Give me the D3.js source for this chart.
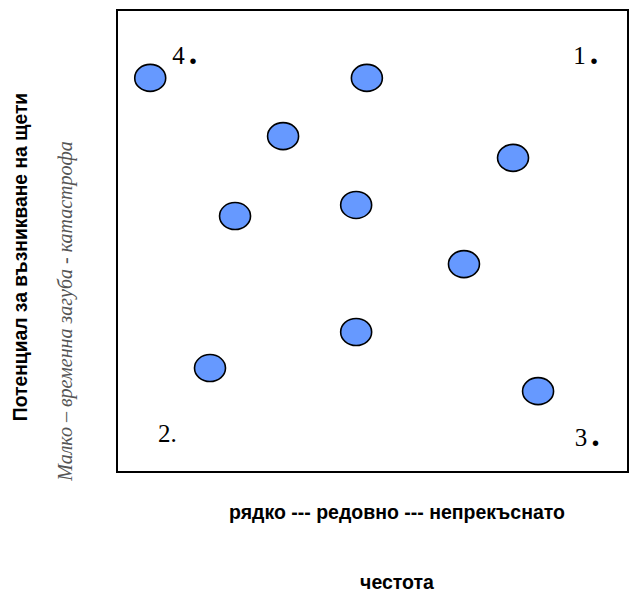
<!DOCTYPE html>
<html>
<head>
<meta charset="utf-8">
<script src="https://cdn.jsdelivr.net/npm/d3@7"></script>
<style>
html,body{margin:0;padding:0;background:#fff;}
svg{display:block;}
</style>
</head>
<body>
<svg id="chart" width="630" height="598"></svg>
<script>
// Data (frequency on x, damage potential on y, 0..10 scale)
const pointNames = ["a","b","c","d","e","f","g","h","i","j"];
const freqValues = [0.65, 4.89, 3.25, 7.75, 2.31, 4.68, 6.79, 4.68, 1.82, 8.24];
const damageValues = [8.53, 8.53, 7.27, 6.80, 5.54, 5.78, 4.50, 3.03, 2.25, 1.75];
const quadrantLabels = ["4", "1", "2", "3"];
const quadrantX = [1.08, 8.93, 0.80, 8.96];
const quadrantY = [8.83, 8.83, 0.65, 0.56];
const quadrantBullet = [true, true, false, true];
const xAxisTitle = "рядко --- редовно --- непрекъснато";
const xAxisTitle2 = "честота";
const yAxisTitle = "Потенциал за възникване на щети";
const yAxisSub = "Малко – временна загуба - катастрофа";

(function(){
const svg = d3.select("#chart");
const pl = 117, pr = 628, pt = 10, pb = 472;
const x = d3.scaleLinear().domain([0, 10]).range([pl, pr]);
const y = d3.scaleLinear().domain([0, 10]).range([pb, pt]);

svg.append("rect")
  .attr("x", pl).attr("y", pt)
  .attr("width", pr - pl).attr("height", pb - pt)
  .attr("fill", "#fff").attr("stroke", "#000").attr("stroke-width", 2);

const pts = pointNames.map((n, i) => ({n, fx: freqValues[i], dy: damageValues[i]}));
svg.append("g").selectAll("ellipse").data(pts).join("ellipse")
  .attr("cx", d => x(d.fx)).attr("cy", d => y(d.dy))
  .attr("rx", 15.5).attr("ry", 13.5)
  .attr("fill", "#6699ff").attr("stroke", "#000").attr("stroke-width", 1.6);

const ql = svg.append("g").selectAll("text").data(quadrantLabels).join("text")
  .attr("x", (d, i) => x(quadrantX[i])).attr("y", (d, i) => y(quadrantY[i]))
  .attr("font-family", "'Liberation Serif', 'Times New Roman', serif")
  .attr("font-size", 25).attr("fill", "#000");
ql.append("tspan").text(d => d);
ql.append("tspan")
  .attr("dx", (d, i) => quadrantBullet[i] ? 4 : 0)
  .attr("font-weight", (d, i) => quadrantBullet[i] ? "bold" : "normal")
  .attr("font-size", (d, i) => quadrantBullet[i] ? 34 : 25)
  .text(".");

svg.append("text")
  .attr("x", 397).attr("y", 519)
  .attr("text-anchor", "middle")
  .attr("font-family", "'Liberation Sans', Arial, sans-serif")
  .attr("font-weight", "bold").attr("font-size", 19.5)
  .text(xAxisTitle);

svg.append("text")
  .attr("x", 397).attr("y", 589)
  .attr("text-anchor", "middle")
  .attr("font-family", "'Liberation Sans', Arial, sans-serif")
  .attr("font-weight", "bold").attr("font-size", 19.5)
  .text(xAxisTitle2);

svg.append("text")
  .attr("transform", "translate(27,257) rotate(-90)")
  .attr("text-anchor", "middle")
  .attr("font-family", "'Liberation Sans', Arial, sans-serif")
  .attr("font-weight", "bold").attr("font-size", 19.3)
  .text(yAxisTitle);

svg.append("text")
  .attr("transform", "translate(72,311) rotate(-90)")
  .attr("text-anchor", "middle")
  .attr("font-family", "'Liberation Serif', 'Times New Roman', serif")
  .attr("font-style", "italic").attr("font-size", 20)
  .attr("fill", "#555")
  .text(yAxisSub);
})();
</script>
</body>
</html>
